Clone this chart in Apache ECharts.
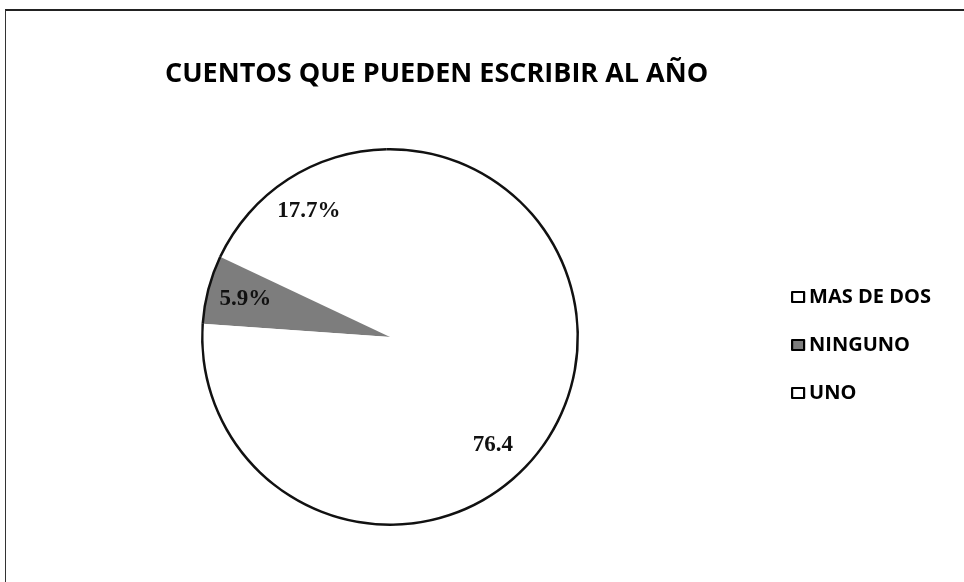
<!DOCTYPE html>
<html>
<head>
    <meta charset="UTF-8">
    <title>Cuentos</title>
    <script src="https://cdn.jsdelivr.net/npm/echarts@6/dist/echarts.min.js"></script>
    <style>
        body { margin: 0; background: #fff; }
        #frame { position: absolute; left: 5px; top: 9px; width: 970px; height: 590px;
                 border-top: 2px solid #222; border-left: 1.5px solid #333; }
        #main { position: absolute; left: 0; top: 0; width: 964px; height: 582px; }
    </style>
</head>
<body>
<div id="frame"></div>
<div id="main"></div>
<script type="text/javascript">
    // datos
    var categorias = ['MAS DE DOS', 'NINGUNO', 'UNO'];
    var porcentajes = [17.7, 5.9, 76.4];
    var etiquetas = ['17.7%', '5.9%', '76.4'];
    var colores = ['#ffffff', '#7d7d7d', '#ffffff'];

    var myChart = echarts.init(document.getElementById('main'));
    var option;

    var datos = categorias.map(function (c, i) {
        return {name: c, value: porcentajes[i], itemStyle: {color: colores[i]}};
    });

    option = {
        backgroundColor: 'transparent',
        animation: false,
        title: {
            text: 'CUENTOS QUE PUEDEN ESCRIBIR AL AÑO',
            left: 160,
            top: 56,
            textStyle: {
                fontFamily: 'Open Sans',
                fontWeight: 'bold',
                fontSize: 27,
                color: '#000'
            }
        },
        legend: {
            orient: 'vertical',
            left: 786,
            top: 278,
            icon: 'rect',
            itemWidth: 12,
            itemHeight: 10,
            itemGap: 20,
            data: categorias,
            itemStyle: {borderColor: '#000', borderWidth: 2.2},
            textStyle: {
                fontFamily: 'Open Sans',
                fontWeight: 'bold',
                fontSize: 20,
                lineHeight: 28,
                color: '#000'
            }
        },
        series: [
            {
                name: 'sectores',
                type: 'pie',
                center: [390, 337],
                radius: [0, 188],
                startAngle: 91,
                clockwise: false,
                silent: true,
                label: {show: false},
                labelLine: {show: false},
                itemStyle: {borderWidth: 0},
                data: datos
            },
            {
                name: 'borde',
                type: 'pie',
                center: [390, 337],
                radius: [186.5, 189],
                startAngle: 91,
                clockwise: false,
                silent: true,
                label: {show: false},
                labelLine: {show: false},
                itemStyle: {color: '#111', borderWidth: 0},
                data: categorias.map(function (c, i) {
                    return {name: c + ' ', value: porcentajes[i]};
                })
            },
            {
                name: 'etiquetas',
                type: 'pie',
                center: [390, 337],
                radius: [105, 188],
                startAngle: 91,
                clockwise: false,
                silent: true,
                itemStyle: {color: 'rgba(0,0,0,0)', borderWidth: 0},
                label: {
                    show: true,
                    position: 'inside',
                    fontFamily: 'Liberation Serif',
                    fontWeight: 'bold',
                    fontSize: 23,
                    color: '#111',
                    formatter: function (p) {
                        return etiquetas[p.dataIndex];
                    }
                },
                labelLine: {show: false},
                data: categorias.map(function (c, i) {
                    return {name: c + '  ', value: porcentajes[i]};
                })
            }
        ]
    };

    option && myChart.setOption(option);
</script>
</body>
</html>
